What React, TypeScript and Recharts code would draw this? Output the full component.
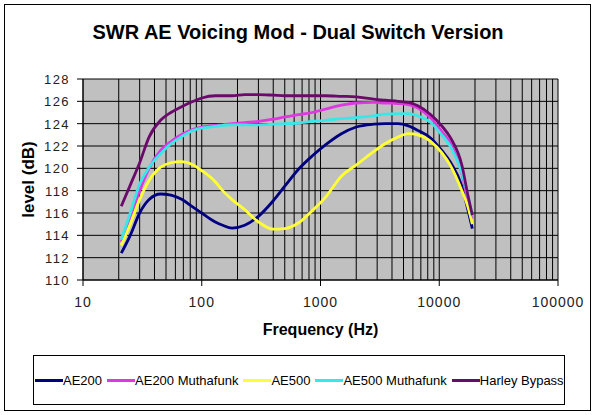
import { LineChart, Line, XAxis, YAxis, CartesianGrid, Legend, Label } from "recharts"

const freqs = [21, 25, 30, 36, 45, 55, 67, 85, 100, 130, 150, 180, 230, 300, 400, 500, 650, 850, 1100, 1500, 2000, 2800, 3500, 4500, 5500, 6600, 8500, 10500, 12500, 15500, 17500, 19000]

const ae200 = [112.4, 114.0, 116.0, 117.2, 117.7, 117.6, 117.25, 116.5, 116.0, 115.2, 114.9, 114.65, 114.9, 115.7, 117.1, 118.4, 119.9, 121.1, 122.1, 123.1, 123.7, 123.95, 124.0, 124.0, 123.8, 123.4, 122.7, 121.6, 120.5, 118.4, 116.2, 114.6]
const ae200Mf = [113.4, 115.6, 118.0, 120.0, 121.6, 122.4, 123.0, 123.5, 123.7, 123.85, 123.9, 124.0, 124.1, 124.2, 124.4, 124.6, 124.8, 125.0, 125.3, 125.65, 125.85, 125.9, 125.85, 125.8, 125.7, 125.4, 124.5, 123.3, 122.2, 119.5, 117.0, 115.5]
const ae500 = [113.1, 115.0, 117.2, 118.9, 120.1, 120.5, 120.6, 120.3, 119.8, 118.8, 118.0, 117.2, 116.3, 115.2, 114.55, 114.6, 115.1, 116.2, 117.4, 119.3, 120.3, 121.5, 122.2, 122.8, 123.1, 123.0, 122.4, 121.4, 120.2, 118.0, 116.5, 115.0]
const ae500Mf = [113.6, 116.0, 118.6, 120.1, 121.3, 122.2, 122.8, 123.4, 123.6, 123.75, 123.85, 123.9, 123.9, 123.9, 123.95, 124.0, 124.05, 124.2, 124.3, 124.45, 124.55, 124.7, 124.85, 124.9, 124.9, 124.7, 124.1, 123.0, 121.9, 119.6, 117.5, 115.7]
const harley = [116.6, 118.5, 120.5, 122.8, 124.3, 125.0, 125.5, 126.0, 126.3, 126.5, 126.5, 126.5, 126.6, 126.6, 126.55, 126.5, 126.5, 126.5, 126.5, 126.45, 126.4, 126.2, 126.1, 126.0, 125.9, 125.6, 124.8, 123.8, 122.7, 120.3, 117.5, 115.8]

const seriesNames = ["AE200", "AE200 Muthafunk", "AE500", "AE500 Muthafunk", "Harley Bypass"]
const seriesKeys = ["ae200", "ae200Mf", "ae500", "ae500Mf", "harley"]
const seriesColors = ["#000080", "#E038E0", "#FFFF33", "#38E8E8", "#6A0A6A"]

const decadeTicks = [10, 100, 1000, 10000, 100000]
const xTicks = [10, 20, 30, 40, 50, 60, 70, 80, 90, 100, 200, 300, 400, 500, 600, 700, 800, 900, 1000, 2000, 3000, 4000, 5000, 6000, 7000, 8000, 9000, 10000, 20000, 30000, 40000, 50000, 60000, 70000, 80000, 90000, 100000]
const yTicks = [110, 112, 114, 116, 118, 120, 122, 124, 126, 128]

const data = freqs.map((f, i) => ({
  f,
  ae200: ae200[i],
  ae200Mf: ae200Mf[i],
  ae500: ae500[i],
  ae500Mf: ae500Mf[i],
  harley: harley[i],
}))

const FONT = "'Liberation Sans', Arial, sans-serif"

function XTick(props: any) {
  const { x, y, payload } = props
  if (!decadeTicks.includes(payload.value)) return null
  return (
    <g>
      <line x1={x} x2={x} y1={y - 13} y2={y - 7} stroke="#000" />
      <text x={x} y={y + 14} textAnchor="middle" fontFamily={FONT} fontSize={14} letterSpacing={1} fill="#222">
        {payload.value}
      </text>
    </g>
  )
}

function YTick(props: any) {
  const { x, y, payload } = props
  return (
    <text x={x} y={y + 5} textAnchor="end" fontFamily={FONT} fontSize={13} letterSpacing={1.4} fill="#222">
      {payload.value}
    </text>
  )
}

function YLabel(props: any) {
  const { viewBox } = props
  const cy = viewBox.y + viewBox.height / 2
  return (
    <text x={28} y={cy} transform={`rotate(-90, 28, ${cy})`} textAnchor="middle" dominantBaseline="central"
      fontFamily={FONT} fontSize={17} fontWeight="bold" fill="#000">
      level (dB)
    </text>
  )
}

function LegendBox(props: any) {
  const { payload } = props
  return (
    <div style={{
      boxSizing: "border-box", width: 532, height: 50, border: "1px solid #000",
      display: "flex", alignItems: "center", paddingLeft: 1, fontFamily: FONT, fontSize: 13, color: "#000",
    }}>
      {payload.map((entry: any, i: number) => (
        <div key={entry.value} style={{ display: "flex", alignItems: "center", marginLeft: i === 0 ? 0 : 5, whiteSpace: "nowrap" }}>
          <span style={{ display: "inline-block", width: 28, height: 3, background: entry.color }} />
          <span>{entry.value}</span>
        </div>
      ))}
    </div>
  )
}

export default function App() {
  return (
    <div style={{ position: "absolute", left: 0, top: 0, width: 596, height: 415, background: "#fff" }}>
      <div style={{ position: "absolute", left: 4, top: 4, width: 587, height: 407, border: "1px solid #000", boxSizing: "border-box" }} />
      <div style={{
        position: "absolute", left: 0, top: 20, width: 596, textAlign: "center", lineHeight: "24px",
        fontFamily: FONT, fontSize: 20, fontWeight: "bold", color: "#000",
      }}>
        SWR AE Voicing Mod - Dual Switch Version
      </div>
      <LineChart width={596} height={415} data={data} margin={{ top: 79, right: 38, bottom: 105, left: 0 }}>
        <CartesianGrid fill="#C0C0C0" stroke="#000" strokeOpacity={1} />
        <XAxis
          dataKey="f"
          type="number"
          scale="log"
          domain={[10, 100000]}
          ticks={xTicks}
          interval={0}
          tick={<XTick />}
          tickLine={false}
          tickSize={6}
          tickMargin={7}
          height={30}
          axisLine={{ stroke: "#000" }}
          allowDataOverflow
        >
          <Label value="Frequency (Hz)" position="bottom" offset={14} fontFamily={FONT} fontSize={16} fontWeight="bold" fill="#000" />
        </XAxis>
        <YAxis
          type="number"
          domain={[110, 128]}
          ticks={yTicks}
          interval={0}
          width={83}
          tick={<YTick />}
          tickSize={6}
          tickMargin={7}
          tickLine={{ stroke: "#000" }}
          axisLine={{ stroke: "#000" }}
        >
          <Label content={<YLabel />} />
        </YAxis>
        <Legend
          layout="horizontal"
          verticalAlign="middle"
          align="center"
          content={<LegendBox />}
          wrapperStyle={{ position: "absolute", left: 33, top: 355, width: 532, height: 50 }}
        />
        {seriesKeys.map((k, i) => (
          <Line
            key={k}
            dataKey={k}
            name={seriesNames[i]}
            stroke={seriesColors[i]}
            strokeWidth={2.8}
            type="monotone"
            dot={false}
            activeDot={false}
            isAnimationActive={false}
          />
        ))}
      </LineChart>
    </div>
  )
}
